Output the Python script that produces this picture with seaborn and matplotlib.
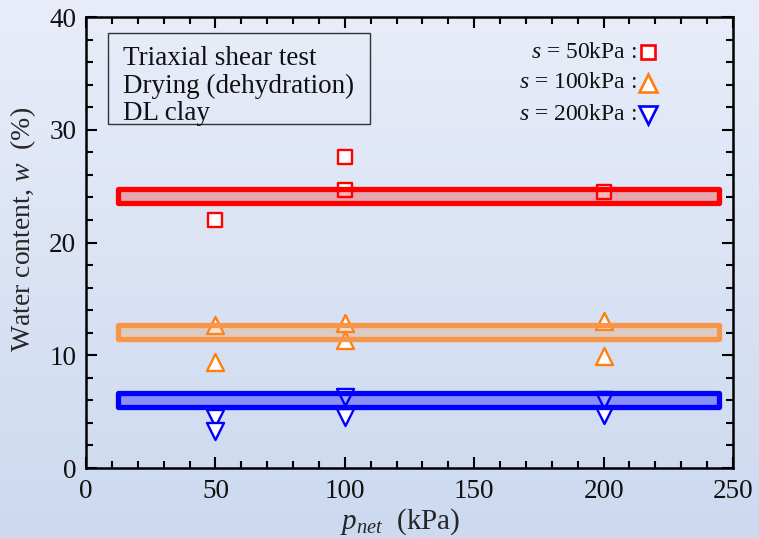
import numpy as np
import pandas as pd
import matplotlib
matplotlib.use("Agg")
import matplotlib.pyplot as plt
from matplotlib.patches import Rectangle
from matplotlib.ticker import MultipleLocator
import seaborn as sns

# Net stress p_net (kPa) and measured water content w (%) for each suction level
p_s50 = [50, 100, 100, 200]
w_s50 = [22.0, 27.6, 24.7, 24.5]

p_s100 = [50, 50, 100, 100, 200, 200]
w_s100 = [12.7, 9.4, 12.9, 11.35, 13.0, 9.9]

p_s200 = [50, 50, 100, 100, 200, 200]
w_s200 = [4.4, 3.3, 6.3, 4.5, 6.0, 4.7]

# Average water-content band for each suction level
band_levels = [24.1, 12.05, 6.0]
band_x = [12.5, 244.5]

suction_labels = ["$s$ = 50kPa :", "$s$ = 100kPa :", "$s$ = 200kPa :"]
info_lines = ["Triaxial shear test", "Drying (dehydration)", "DL clay"]

sns.set_theme(style="ticks")
plt.rcParams["font.family"] = ["Liberation Serif", "DejaVu Serif"]
plt.rcParams["mathtext.fontset"] = "custom"
plt.rcParams["mathtext.rm"] = "Liberation Serif"
plt.rcParams["mathtext.it"] = "Liberation Serif:italic"

fig = plt.figure(figsize=(7.59, 5.38), dpi=100)

# soft vertical gradient behind everything
bg = fig.add_axes([0, 0, 1, 1], zorder=-10)
grad = np.linspace(0, 1, 256)[:, None]
top = np.array([233, 237, 249]) / 255
bot = np.array([204, 217, 239]) / 255
img = top[None, None, :] * (1 - grad[:, :, None]) + bot[None, None, :] * grad[:, :, None]
bg.imshow(img, aspect="auto", extent=[0, 1, 0, 1])
bg.axis("off")

ax = fig.add_axes([0.1133, 0.1301, 0.8524, 0.8383])
ax.patch.set_alpha(0)

df = pd.concat([
    pd.DataFrame({"p": p_s50, "w": w_s50, "s": "50"}),
    pd.DataFrame({"p": p_s100, "w": w_s100, "s": "100"}),
    pd.DataFrame({"p": p_s200, "w": w_s200, "s": "200"}),
])
colors = {"50": "#FF0000", "100": "#FF8010", "200": "#0000FF"}
markers = {"50": "s", "100": "^", "200": "v"}
sizes = {"50": 105, "100": 150, "200": 150}

for key in ["50", "100", "200"]:
    sub = df[df["s"] == key]
    sns.scatterplot(data=sub, x="p", y="w", marker=markers[key], s=sizes[key],
                    facecolor="white", edgecolor=colors[key], linewidth=1.7,
                    ax=ax, zorder=3, legend=False)

# translucent bands drawn over the points
band_edges = ["#FF0000", "#F79548", "#0000FF"]
band_fills = [(1.0, 0.0, 0.0, 0.28), (0.97, 0.58, 0.28, 0.28), (0.0, 0.0, 1.0, 0.35)]
band_h = 1.25
for lvl, ec, fc in zip(band_levels, band_edges, band_fills):
    ax.add_patch(Rectangle((band_x[0], lvl - band_h / 2), band_x[1] - band_x[0], band_h,
                           facecolor=fc, edgecolor=ec, linewidth=3.8, zorder=4,
                           joinstyle="round"))

ax.set_xlim(0, 250)
ax.set_ylim(0, 40)
ax.xaxis.set_major_locator(MultipleLocator(50))
ax.xaxis.set_minor_locator(MultipleLocator(10))
ax.yaxis.set_major_locator(MultipleLocator(10))
ax.yaxis.set_minor_locator(MultipleLocator(2))
ax.tick_params(which="both", direction="in", top=True, right=True, color="black")
ax.tick_params(which="major", length=8, width=1.5, labelsize=19.5, labelcolor="#111111")
ax.tick_params(axis="x", which="major", pad=8)
ax.tick_params(axis="y", which="major", pad=7)
ax.tick_params(which="minor", length=5, width=1.5)
for sp in ax.spines.values():
    sp.set_linewidth(1.8)
    sp.set_color("black")

ax.set_xlabel("$p_{net}$  (kPa)", fontsize=21, labelpad=-3)
ax.set_ylabel("Water content, $w$  (%)", fontsize=20)
ax.yaxis.set_label_coords(-0.074, 0.528)
ax.xaxis.set_label_coords(0.486, -0.085)

# description box
ax.add_patch(Rectangle((0.034, 0.7627), 0.405, 0.2018, transform=ax.transAxes,
                       facecolor="none", edgecolor="#333333", linewidth=1.0, zorder=5))
for line, yb in zip(info_lines, [0.8936, 0.8315, 0.7716]):
    ax.text(0.0572, yb, line, transform=ax.transAxes, fontsize=19.5, va="baseline",
            ha="left", color="#111111", zorder=5)

# suction key
key_y = [0.922, 0.854, 0.783]
key_m = ["s", "^", "v"]
key_c = ["#FF0000", "#FF8010", "#0000FF"]
key_ms = [10, 12.5, 12.5]
for lab, yy, m, c, ms in zip(suction_labels, key_y, key_m, key_c, key_ms):
    ax.text(0.852, yy, lab, transform=ax.transAxes, fontsize=17, ha="right",
            va="center", color="#111111")
    ax.plot([0.869], [yy], transform=ax.transAxes, marker=m, markersize=ms,
            markerfacecolor="white", markeredgecolor=c, markeredgewidth=1.9,
            linestyle="none", clip_on=False)

fig.savefig("out.png", dpi=100)
